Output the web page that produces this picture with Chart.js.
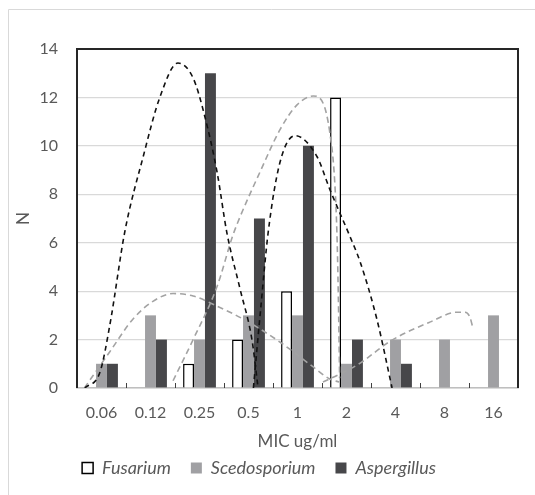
<!DOCTYPE html>
<html>
<head>
  <title>MIC distribution</title>
  <script src="https://cdn.jsdelivr.net/npm/chart.js"></script>
  <style>
    body { margin: 0; background: #fff; }
  </style>
</head>
<body>
  <canvas id="chart" width="535" height="495"></canvas>

  <script>

// MIC categories and counts
const micLabels = ['0.06', '0.12', '0.25', '0.5', '1', '2', '4', '8', '16'];
const fusarium = [0, 0, 1, 2, 4, 12, 0, 0, 0];
const scedosporium = [1, 3, 2, 3, 3, 1, 2, 2, 3];
const aspergillus = [1, 2, 13, 7, 10, 2, 1, 0, 0];

// dashed trend curves (x = category position, y = N)
const blackCurve1X = [-0.34, -0.03, 0.17, 0.48, 0.85, 1.19, 1.56, 1.87, 2.11, 2.36, 2.56, 2.83, 3.07, 3.19];
const blackCurve1Y = [0, 0.66, 2.6, 6.5, 9.55, 12.0, 13.42, 12.8, 11.2, 8.9, 6.4, 4.07, 2.0, 0.1];
const blackCurve2X = [3.1, 3.25, 3.4, 3.64, 3.95, 4.4, 4.66, 5.07, 5.28, 5.62, 5.93];
const blackCurve2Y = [0, 3.3, 6.4, 9.3, 10.42, 9.55, 8.2, 6.26, 5.2, 2.84, 0];
const grayCurve1X = [1.46, 1.87, 2.36, 2.68, 2.83, 3.23, 3.64, 3.99, 4.32, 4.52, 4.66, 4.76, 4.81, 4.84, 4.86];
const grayCurve1Y = [0.3, 2.0, 4.2, 6.3, 7.08, 8.9, 10.66, 11.69, 12.06, 11.77, 10.54, 8.5, 6.0, 3.0, 0.4];
const grayCurve2X = [-0.35, 0.17, 0.64, 1.05, 1.46, 1.87, 2.36, 2.97, 3.64, 3.91, 4.3, 4.66, 4.85];
const grayCurve2Y = [0, 1.5, 2.84, 3.58, 3.9, 3.8, 3.38, 2.76, 1.9, 1.5, 0.9, 0.37, 0.25];
const grayCurve3X = [4.52, 4.87, 5.28, 5.89, 6.7, 7.26, 7.42, 7.52, 7.58];
const grayCurve3Y = [0.25, 0.58, 1.03, 1.93, 2.72, 3.13, 3.13, 2.92, 2.47];

function toPoints(xs, ys) {
  return xs.map((x, i) => ({ x: x, y: ys[i] }));
}

function trend(xs, ys, color, dash) {
  return {
    type: 'line',
    label: 'trend',
    data: toPoints(xs, ys),
    borderColor: color,
    borderWidth: 1.6,
    borderDash: dash,
    pointRadius: 0,
    fill: false,
    cubicInterpolationMode: 'monotone',
    order: 0
  };
}

// bars sit on the same linear x axis as the curves, one slot per MIC value
function bars(label, values, fillColor, edge) {
  return {
    type: 'bar',
    label: label,
    data: values.map((v, i) => ({ x: i, y: v })),
    backgroundColor: fillColor,
    borderColor: edge || fillColor,
    borderWidth: edge ? 1.5 : 0,
    order: 1
  };
}

const textColor = '#595959';

// light frame round the picture, dark box round the plot, small ticks between categories
const framePlugin = {
  id: 'frame',
  beforeDraw(chart) {
    const c = chart.ctx;
    c.save();
    c.strokeStyle = '#d9d9d9';
    c.lineWidth = 1;
    c.beginPath();
    c.moveTo(8.5, 495);
    c.lineTo(8.5, 9.5);
    c.lineTo(535, 9.5);
    c.stroke();
    c.restore();
  },
  afterDraw(chart) {
    const a = chart.chartArea;
    const xs = chart.scales.x;
    const c = chart.ctx;
    c.save();
    c.strokeStyle = '#404040';
    c.lineWidth = 1;
    c.beginPath();
    for (let i = 1; i < micLabels.length; i++) {
      const px = Math.round(xs.getPixelForValue(i - 0.5)) + 0.5;
      c.moveTo(px, a.bottom);
      c.lineTo(px, a.bottom - 5);
    }
    c.stroke();
    c.strokeStyle = '#262626';
    c.lineWidth = 2;
    c.beginPath();
    c.moveTo(a.left, a.bottom);
    c.lineTo(a.left, a.top);
    c.lineTo(a.right, a.top);
    c.lineTo(a.right, a.bottom);
    c.stroke();
    c.restore();
  }
};

const ctx = document.getElementById('chart').getContext('2d');

new Chart(ctx, {
  type: 'bar',
  data: {
    datasets: [
      bars('Fusarium', fusarium, '#ffffff', '#000000'),
      bars('Scedosporium', scedosporium, '#a0a0a3'),
      bars('Aspergillus', aspergillus, '#47474a'),
      trend(blackCurve1X, blackCurve1Y, '#111111', [5, 4]),
      trend(blackCurve2X, blackCurve2Y, '#111111', [5, 4]),
      trend(grayCurve1X, grayCurve1Y, '#a3a3a3', [6, 4]),
      trend(grayCurve2X, grayCurve2Y, '#a3a3a3', [6, 4]),
      trend(grayCurve3X, grayCurve3Y, '#a3a3a3', [6, 4])
    ]
  },
  options: {
    responsive: false,
    animation: false,
    datasets: {
      bar: { categoryPercentage: 0.67, barPercentage: 1 }
    },
    layout: { padding: { left: 0, top: 49, right: 17, bottom: 8 } },
    plugins: {
      tooltip: { enabled: false },
      legend: {
        position: 'bottom',
        labels: {
          filter: item => item.text !== 'trend',
          boxWidth: 11,
          boxHeight: 11,
          padding: 20,
          color: textColor,
          font: { family: 'Lato', size: 18, style: 'italic' }
        }
      }
    },
    scales: {
      x: {
        type: 'linear',
        min: -0.5,
        max: 8.5,
        offset: false,
        border: { color: '#bfbfbf', width: 1.5 },
        grid: { display: false, offset: false },
        afterBuildTicks: scale => {
          scale.ticks = micLabels.map((l, i) => ({ value: i }));
        },
        ticks: {
          autoSkip: false,
          maxRotation: 0,
          callback: value => micLabels[value],
          color: textColor,
          padding: 7,
          font: { family: 'Lato', size: 16 }
        },
        title: {
          display: true,
          text: 'MIC ug/ml',
          color: textColor,
          padding: { top: 0, bottom: -13 },
          font: { family: 'Lato', size: 17 }
        },
        afterFit: scale => { scale.height = 51; }
      },
      y: {
        min: 0,
        max: 14,
        border: { display: false },
        grid: { color: '#d9d9d9', drawTicks: false, lineWidth: 1.2 },
        ticks: {
          stepSize: 2,
          color: textColor,
          padding: 19,
          font: { family: 'Lato', size: 16 }
        },
        title: {
          display: true,
          text: 'N',
          color: textColor,
          padding: { top: 13, bottom: 0 },
          font: { family: 'Lato', size: 17 }
        },
        afterFit: scale => { scale.width = 77; }
      }
    }
  },
  plugins: [framePlugin]
});
  </script>
</body>
</html>
